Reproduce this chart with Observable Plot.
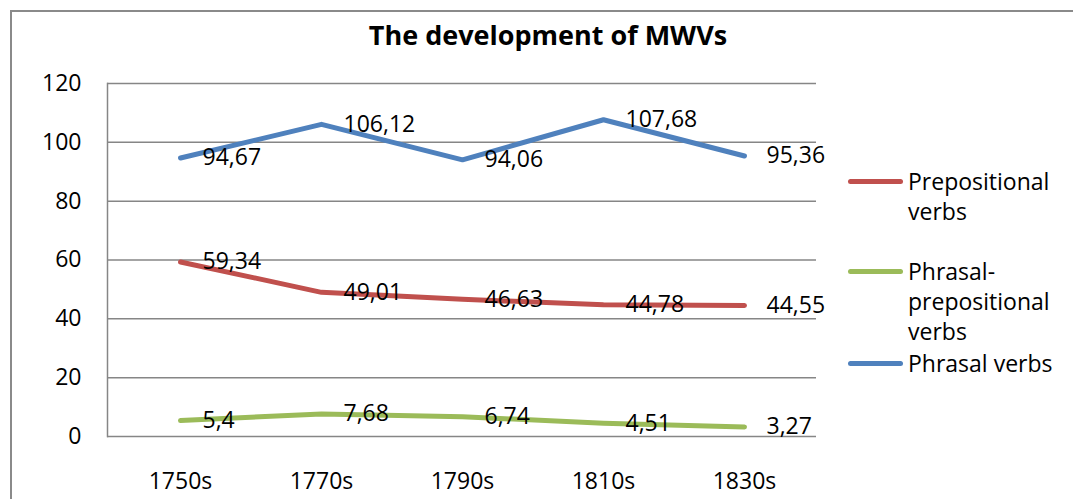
<!DOCTYPE html>
<html>
<head>
<meta charset="utf-8">
<script src="https://cdn.jsdelivr.net/npm/d3@7"></script>
<script src="https://cdn.jsdelivr.net/npm/@observablehq/plot@0.6"></script>
<style>
  html, body { margin: 0; padding: 0; background: #fff; }
  #wrap { position: relative; width: 1073px; height: 499px; overflow: hidden; font-family: "Open Sans", sans-serif; color: #000; }
  #frame { position: absolute; left: 10px; top: 10px; width: 1080px; height: 500px; border-top: 2px solid #8a8a8a; border-left: 2px solid #8a8a8a; }
  #title { position: absolute; left: 0; top: 15px; width: 1096px; text-align: center; font-weight: bold; font-size: 27px; line-height: 40px; }
  #chart { position: absolute; left: 0; top: 60px; }
  .entry { position: absolute; left: 848px; font-size: 23px; line-height: 30px; white-space: nowrap; }
  .swatch { position: absolute; left: 0; top: 13px; width: 55px; height: 5px; border-radius: 3px; }
  .label { position: absolute; left: 60px; top: 0; }
</style>
</head>
<body>
<div id="wrap">
  <div id="frame"></div>
  <div id="title"></div>
  <div id="chart"></div>
  <div id="legend"></div>
</div>
<script>
const chartTitle = "The development of MWVs";
const decades = ["1750s", "1770s", "1790s", "1810s", "1830s"];
const seriesNames = ["Prepositional verbs", "Phrasal-prepositional verbs", "Phrasal verbs"];
const legendLines = [["Prepositional", "verbs"], ["Phrasal-", "prepositional", "verbs"], ["Phrasal verbs"]];
const prepositional = [59.34, 49.01, 46.63, 44.78, 44.55];
const phrasalPrepositional = [5.4, 7.68, 6.74, 4.51, 3.27];
const phrasal = [94.67, 106.12, 94.06, 107.68, 95.36];
const seriesColors = ["#C0504D", "#9BBB59", "#4F81BD"];
const yTicks = [0, 20, 40, 60, 80, 100, 120];

const seriesValues = [prepositional, phrasalPrepositional, phrasal];
const rows = seriesNames.flatMap((s, i) => decades.map((d, j) => ({series: s, decade: d, value: seriesValues[i][j]})));

document.getElementById("title").textContent = chartTitle;

const fs = 23;
const chart = Plot.plot({
  width: 1073,
  height: 439,
  marginLeft: 107,
  marginRight: 257,
  marginTop: 23,
  marginBottom: 63,
  style: {fontFamily: "Open Sans", fontSize: fs + "px", color: "#000", background: "transparent", overflow: "visible"},
  x: {type: "point", domain: decades, padding: 0.5, label: null},
  y: {domain: [0, 120], label: null},
  color: {domain: seriesNames, range: seriesColors},
  marks: [
    Plot.ruleY(yTicks, {stroke: "#868686", strokeWidth: 1.5}),
    Plot.frame({anchor: "left", stroke: "#868686", strokeWidth: 1.5}),
    Plot.axisY({ticks: yTicks, tickSize: 0, tickPadding: 26, label: null, fontSize: fs, fill: "#000"}),
    Plot.axisX({tickSize: 0, tickPadding: 36, label: null, fontSize: fs, fill: "#000"}),
    Plot.line(rows, {x: "decade", y: "value", z: "series", stroke: "series", strokeWidth: 5, strokeLinecap: "round", strokeLinejoin: "round"}),
    Plot.text(rows, {x: "decade", y: "value", text: d => String(d.value).replace(".", ","), dx: 22, textAnchor: "start", fill: "#000", fontSize: fs})
  ]
});
document.getElementById("chart").appendChild(chart);

const legend = document.getElementById("legend");
const entryTops = [166, 256, 348];
seriesNames.forEach((s, i) => {
  const e = document.createElement("div");
  e.className = "entry";
  e.style.top = entryTops[i] + "px";
  const sw = document.createElement("div");
  sw.className = "swatch";
  sw.style.background = seriesColors[i];
  const lb = document.createElement("div");
  lb.className = "label";
  lb.innerHTML = legendLines[i].join("<br>");
  e.appendChild(sw);
  e.appendChild(lb);
  legend.appendChild(e);
});
</script>
</body>
</html>
